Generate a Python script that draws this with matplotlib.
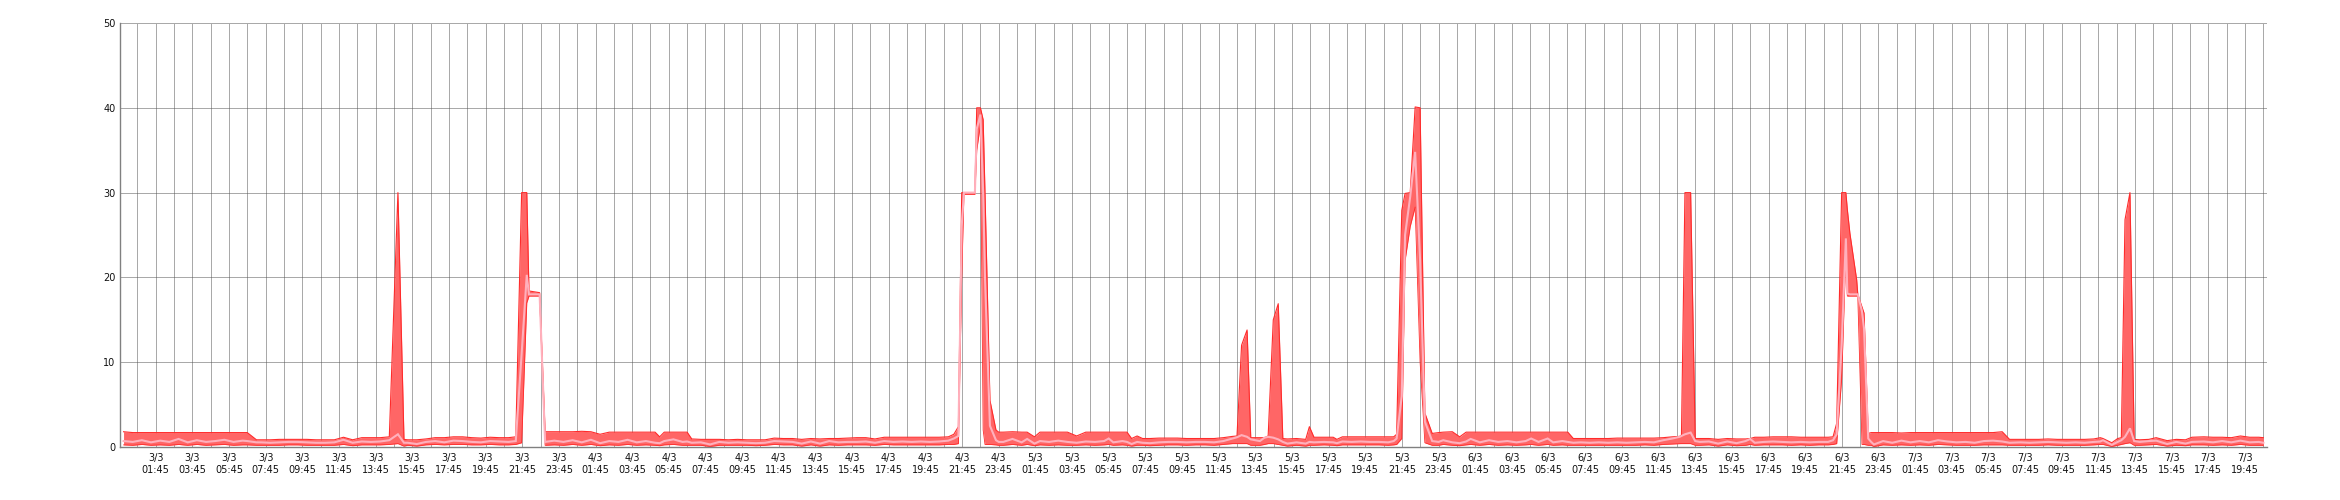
import numpy as np
import matplotlib
matplotlib.use("Agg")
import matplotlib.pyplot as plt
from matplotlib.ticker import FixedLocator, NullFormatter

# time in hours since 3/3 00:00
hours = [
    0, 0.5, 1, 1.5, 2, 2.5, 3, 3.5, 4, 4.5, 5, 5.5, 6, 6.5, 6.75, 7.25, 7.5, 8, 8.5, 9, 9.5, 10, 10.5, 11, 11.5, 12, 12.5, 13, 13.5, 14, 14.5,
    14.97, 15.3, 15.5, 16, 16.5, 17, 17.5, 18, 18.5, 19, 19.5, 20, 20.5, 21, 21.4,
    21.72, 22.0, 22.12, 22.7, 23.0,
    23.5, 24, 24.5, 25, 25.5, 26, 26.5, 27, 27.5, 28, 28.5, 29, 29.25, 29.5, 30, 30.5, 30.75, 31, 31.5, 32, 32.5, 33, 33.5, 34, 34.5, 35,
    35.5, 36, 36.5, 37, 37.5, 38, 38.5, 39, 39.5, 40, 40.5, 41, 41.5, 42, 42.5, 43, 43.5, 44, 44.5, 45, 45.3,
    45.55, 45.73, 45.85, 46.45, 46.55, 46.75, 46.9, 47.0, 47.27, 47.6,
    47.75, 48, 48.5, 49, 49.3, 49.7, 50, 50.5, 51, 51.5, 52, 52.5, 53, 53.5, 53.75, 54, 54.5, 54.75, 55, 55.3, 55.6, 56, 56.5, 57, 57.5,
    58, 58.5, 59, 59.5, 60, 60.5, 60.75,
    61.0, 61.3, 61.5, 62.0, 62.25, 62.45, 62.73, 63.0, 63.25, 63.5, 64.0, 64.5, 64.7, 64.95, 65.5, 66.0, 66.2, 66.5, 67.0, 67.5, 68.0,
    68.5, 69.0, 69.3, 69.46,
    69.74, 69.92, 70.2, 70.47, 70.74, 71.0, 71.4,
    71.75, 72.0, 72.5, 72.9, 73.25, 73.5, 74, 74.5, 75, 75.5, 76, 76.5, 76.8, 77.2, 77.7, 78, 78.5, 78.8, 79.1, 79.5, 80, 80.5, 81, 81.5,
    82, 82.5, 83, 83.5, 84, 84.5, 84.9,
    85.0, 85.19, 85.5, 85.75, 86.0, 86.5, 87.0, 87.5, 88.0, 88.5, 88.75, 89.0, 89.5, 90.0, 90.5, 91.0, 91.5, 92.0, 92.5, 93.0, 93.27,
    93.47, 93.74, 93.97, 94.05, 94.19, 94.56, 94.62, 94.85, 94.96, 95.19, 95.35,
    95.5, 96, 96.5, 97, 97.5, 98, 98.5, 99, 99.5, 100, 100.5, 101, 101.5, 102, 102.5, 102.9, 103.5, 104, 104.5, 105, 105.5, 106, 106.5,
    107, 107.5, 107.85, 108.0, 108.48, 108.8, 109.0, 109.2, 109.47, 109.7, 110.0, 110.5, 110.9, 111.5, 112, 112.5, 112.85, 113.5, 114,
    114.5, 115, 115.5, 116, 116.5, 116.75,
]

max_val = [
    1.8, 1.7, 1.7, 1.7, 1.7, 1.7, 1.7, 1.7, 1.7, 1.7, 1.7, 1.7, 1.7, 1.7, 1.7, 0.85, 0.85, 0.85, 0.9, 0.9, 0.9, 0.9, 0.85, 0.85, 0.85, 1.15, 0.85, 1.1, 1.1, 1.1, 1.2,
    30, 0.9, 0.85, 0.85, 0.95, 1.1, 1.1, 1.2, 1.2, 1.1, 1.05, 1.15, 1.1, 1.1, 1.2,
    30, 30, 18.4, 18.2, 1.8,
    1.8, 1.8, 1.8, 1.85, 1.8, 1.5, 1.75, 1.75, 1.75, 1.75, 1.75, 1.75, 1.2, 1.75, 1.75, 1.75, 1.75, 0.95, 0.9, 0.9, 0.9, 0.85, 0.9, 0.85, 0.85, 0.85,
    1.05, 1.0, 1.0, 0.9, 1.0, 0.95, 1.0, 1.0, 1.05, 1.1, 1.1, 0.95, 1.15, 1.15, 1.15, 1.15, 1.15, 1.15, 1.15, 1.2, 1.5,
    2.4, 30, 30, 30, 40, 40, 38.6, 30, 5.5, 2.0,
    1.75, 1.75, 1.8, 1.75, 1.75, 1.2, 1.75, 1.75, 1.75, 1.75, 1.3, 1.75, 1.75, 1.75, 1.75, 1.75, 1.75, 1.75, 1.0, 1.3, 1.0, 1.0, 1.05, 1.05, 1.05,
    1.0, 1.0, 1.0, 1.0, 1.1, 1.25, 1.3,
    12.0, 13.8, 1.1, 1.1, 1.1, 1.3, 15.0, 16.9, 1.0, 0.95, 1.0, 0.9, 2.4, 1.15, 1.15, 1.15, 0.9, 1.2, 1.2, 1.2, 1.2,
    1.2, 1.2, 1.2, 1.5,
    27.9, 29.9, 30, 40.1, 40, 4.0, 1.6,
    1.7, 1.75, 1.8, 1.2, 1.75, 1.75, 1.75, 1.75, 1.75, 1.75, 1.75, 1.75, 1.75, 1.75, 1.75, 1.75, 1.75, 1.75, 1.0, 1.0, 1.0, 1.0, 1.0, 1.05,
    1.05, 1.05, 1.05, 1.05, 1.1, 1.2, 1.25,
    1.4, 30, 30, 1.0, 1.0, 1.0, 0.9, 1.0, 0.95, 0.95, 1.0, 1.15, 1.15, 1.2, 1.2, 1.2, 1.15, 1.15, 1.15, 1.15, 1.2,
    2.8, 30, 30, 28, 25.2, 19.7, 18, 16.5, 15.8, 1.6, 1.7,
    1.7, 1.7, 1.7, 1.65, 1.7, 1.7, 1.7, 1.7, 1.7, 1.7, 1.7, 1.7, 1.7, 1.7, 1.8, 0.9, 0.9, 0.9, 0.9, 0.95, 0.9, 0.9, 0.9,
    0.9, 0.95, 1.1, 1.0, 0.5, 1.0, 1.1, 26.8, 30, 0.9, 0.85, 0.9, 1.1, 0.75, 0.9, 0.85, 1.15, 1.2, 1.15,
    1.15, 1.1, 1.3, 1.15, 1.15, 1.1,
]

avg_val = [
    0.7, 0.6, 0.8, 0.55, 0.75, 0.6, 0.95, 0.55, 0.8, 0.6, 0.7, 0.85, 0.6, 0.75, 0.7, 0.55, 0.55, 0.5, 0.55, 0.6, 0.6, 0.55, 0.5, 0.5, 0.55, 0.85, 0.5, 0.65, 0.6, 0.65, 0.8,
    1.5, 0.5, 0.5, 0.35, 0.6, 0.7, 0.55, 0.75, 0.7, 0.6, 0.55, 0.7, 0.65, 0.6, 0.7,
    11, 20.3, 18, 18, 0.6,
    0.75, 0.6, 0.8, 0.55, 0.85, 0.45, 0.7, 0.6, 0.85, 0.55, 0.7, 0.5, 0.45, 0.7, 0.9, 0.6, 0.65, 0.5, 0.55, 0.3, 0.6, 0.5, 0.55, 0.5, 0.45, 0.5,
    0.7, 0.65, 0.6, 0.4, 0.65, 0.4, 0.7, 0.55, 0.6, 0.6, 0.65, 0.5, 0.7, 0.6, 0.65, 0.6, 0.65, 0.6, 0.65, 0.75, 1.0,
    1.3, 26, 30, 30, 37.5, 39.2, 30, 20, 2.5, 0.8,
    0.6, 0.6, 0.95, 0.55, 0.95, 0.4, 0.7, 0.6, 0.75, 0.6, 0.5, 0.65, 0.6, 0.7, 1.0, 0.55, 0.7, 0.6, 0.35, 0.6, 0.5, 0.45, 0.55, 0.6, 0.6,
    0.55, 0.6, 0.6, 0.55, 0.7, 1.0, 1.15,
    1.4, 1.2, 0.9, 0.7, 1.1, 1.2, 1.1, 0.9, 0.6, 0.4, 0.55, 0.4, 0.6, 0.55, 0.6, 0.55, 0.45, 0.65, 0.6, 0.65, 0.6,
    0.6, 0.55, 0.7, 1.0,
    6, 25, 29.5, 34.8, 22, 3, 0.7,
    0.6, 0.8, 0.55, 0.45, 0.65, 0.95, 0.55, 0.8, 0.6, 0.7, 0.55, 0.7, 1.0, 0.6, 1.0, 0.55, 0.7, 0.6, 0.5, 0.55, 0.5, 0.55, 0.5, 0.55,
    0.5, 0.55, 0.6, 0.55, 0.8, 1.0, 1.2,
    1.3, 1.5, 1.7, 0.7, 0.6, 0.65, 0.4, 0.65, 0.45, 0.7, 0.95, 0.5, 0.6, 0.65, 0.6, 0.55, 0.6, 0.55, 0.6, 0.6, 0.8,
    1.5, 12, 24.6, 18.1, 18, 18, 18, 16, 14, 1.0, 0.6,
    0.3, 0.7, 0.5, 0.75, 0.55, 0.7, 0.55, 0.8, 0.65, 0.55, 0.6, 0.5, 0.7, 0.75, 0.65, 0.5, 0.55, 0.5, 0.55, 0.6, 0.55, 0.5, 0.55,
    0.5, 0.6, 0.65, 0.8, 0.25, 0.6, 0.8, 1.2, 2.2, 0.7, 0.6, 0.7, 0.75, 0.35, 0.6, 0.4, 0.6, 0.65, 0.55,
    0.7, 0.55, 0.75, 0.55, 0.6, 0.5,
]

min_val = [
    0.25, 0.2, 0.3, 0.2, 0.25, 0.2, 0.3, 0.2, 0.3, 0.2, 0.25, 0.3, 0.2, 0.25, 0.25, 0.2, 0.2, 0.2, 0.2, 0.25, 0.25, 0.2, 0.2, 0.2, 0.2, 0.3, 0.15, 0.25, 0.25, 0.25, 0.3,
    0.4, 0.1, 0.2, 0.1, 0.25, 0.3, 0.25, 0.3, 0.3, 0.25, 0.25, 0.3, 0.25, 0.25, 0.3,
    0.5, 17, 17.8, 17.8, 0.2,
    0.25, 0.2, 0.3, 0.2, 0.3, 0.15, 0.25, 0.2, 0.3, 0.2, 0.25, 0.2, 0.15, 0.25, 0.3, 0.2, 0.2, 0.2, 0.2, 0.05, 0.2, 0.2, 0.2, 0.2, 0.15, 0.2,
    0.3, 0.25, 0.25, 0.1, 0.25, 0.1, 0.25, 0.2, 0.25, 0.25, 0.25, 0.2, 0.3, 0.25, 0.25, 0.25, 0.25, 0.25, 0.25, 0.3, 0.3,
    0.4, 20, 29.8, 29.8, 35, 38, 2, 0.3, 0.3, 0.25,
    0.2, 0.2, 0.3, 0.2, 0.3, 0.15, 0.25, 0.2, 0.25, 0.2, 0.2, 0.25, 0.2, 0.25, 0.3, 0.2, 0.25, 0.2, 0.1, 0.2, 0.2, 0.15, 0.2, 0.25, 0.25,
    0.2, 0.25, 0.25, 0.2, 0.3, 0.4, 0.4,
    0.4, 0.4, 0.2, 0.2, 0.3, 0.4, 0.4, 0.3, 0.2, 0.1, 0.2, 0.1, 0.2, 0.2, 0.25, 0.2, 0.15, 0.25, 0.25, 0.25, 0.25,
    0.25, 0.2, 0.25, 0.3,
    1.0, 22, 26, 28.3, 10, 0.5, 0.2,
    0.2, 0.3, 0.2, 0.15, 0.25, 0.3, 0.2, 0.3, 0.2, 0.25, 0.2, 0.25, 0.3, 0.2, 0.3, 0.2, 0.25, 0.2, 0.2, 0.2, 0.2, 0.2, 0.2, 0.2,
    0.2, 0.2, 0.25, 0.2, 0.3, 0.35, 0.4,
    0.4, 0.4, 0.4, 0.2, 0.2, 0.25, 0.1, 0.25, 0.15, 0.2, 0.3, 0.2, 0.25, 0.25, 0.25, 0.2, 0.25, 0.2, 0.25, 0.25, 0.3,
    0.4, 8, 23, 17.8, 17.8, 17.8, 17.8, 0.3, 0.3, 0.2, 0.2,
    0.05, 0.25, 0.2, 0.25, 0.2, 0.25, 0.2, 0.3, 0.25, 0.2, 0.2, 0.2, 0.25, 0.25, 0.25, 0.2, 0.2, 0.2, 0.2, 0.25, 0.2, 0.2, 0.2,
    0.2, 0.25, 0.3, 0.3, 0.05, 0.2, 0.3, 0.4, 0.5, 0.2, 0.2, 0.25, 0.3, 0.1, 0.2, 0.15, 0.25, 0.25, 0.2,
    0.25, 0.2, 0.3, 0.2, 0.2, 0.2,
]

assert len(hours) == len(max_val) == len(avg_val) == len(min_val), (
    len(hours), len(max_val), len(avg_val), len(min_val))

days = ["3/3", "4/3", "5/3", "6/3", "7/3"]
clock_labels = ["01:45", "03:45", "05:45", "07:45", "09:45", "11:45",
                "13:45", "15:45", "17:45", "19:45", "21:45", "23:45"]
y_ticks = [0, 10, 20, 30, 40, 50]

tick_pos = []
tick_lab = []
for d, day in enumerate(days):
    for c in clock_labels:
        hh, mm = c.split(":")
        pos = 24 * d + int(hh) + int(mm) / 60.0
        if pos > 116.0:
            continue
        tick_pos.append(pos)
        tick_lab.append(f"{day}\n{c}")
grid_pos = [p - 1 for p in tick_pos] + [tick_pos[-1] + 1]

W, H = 2340, 500
fig = plt.figure(figsize=(W / 100, H / 100), dpi=100)
left, right, top, bottom = 119.5, 2266.5, 23, 447
ax = fig.add_axes([left / W, 1 - bottom / H, (right - left) / W, (bottom - top) / H])

ax.fill_between(hours, min_val, max_val, color="#FF6666", lw=0, zorder=2)
ax.plot(hours, max_val, color="#FF2B2B", lw=0.8, zorder=3)
ax.plot(hours, min_val, color="#FF2B2B", lw=0.6, zorder=3)
ax.plot(hours, avg_val, color="#FFB0BC", lw=1.5, zorder=4, solid_joinstyle="miter")

ax.set_xlim(-0.221, 116.92)
ax.set_ylim(0, 50)

ax.xaxis.set_major_locator(FixedLocator(tick_pos))
ax.set_xticklabels(tick_lab)
ax.xaxis.set_minor_locator(FixedLocator(grid_pos))
ax.xaxis.set_minor_formatter(NullFormatter())
ax.set_yticks(y_ticks)
ax.set_yticklabels([str(v) for v in y_ticks])

ax.set_axisbelow(True)
ax.grid(True, which="both", axis="x", color="#555555", linestyle=(0, (1, 1)), linewidth=0.72, zorder=0)
ax.grid(True, which="major", axis="y", color="#555555", linestyle=(0, (1, 1)), linewidth=0.72, zorder=0)

for s in ("top", "right"):
    ax.spines[s].set_visible(False)
for s in ("left", "bottom"):
    ax.spines[s].set_color("#808080")
    ax.spines[s].set_linewidth(1.0)
    ax.spines[s].set_zorder(5)

ax.tick_params(axis="both", which="both", length=0)
ax.tick_params(axis="x", pad=4.5, labelsize=7, labelcolor="#111111")
ax.tick_params(axis="y", pad=3, labelsize=7, labelcolor="#111111")
for lab in ax.get_xticklabels():
    lab.set_linespacing(1.25)

fig.savefig("out.png", dpi=100, facecolor="white")
